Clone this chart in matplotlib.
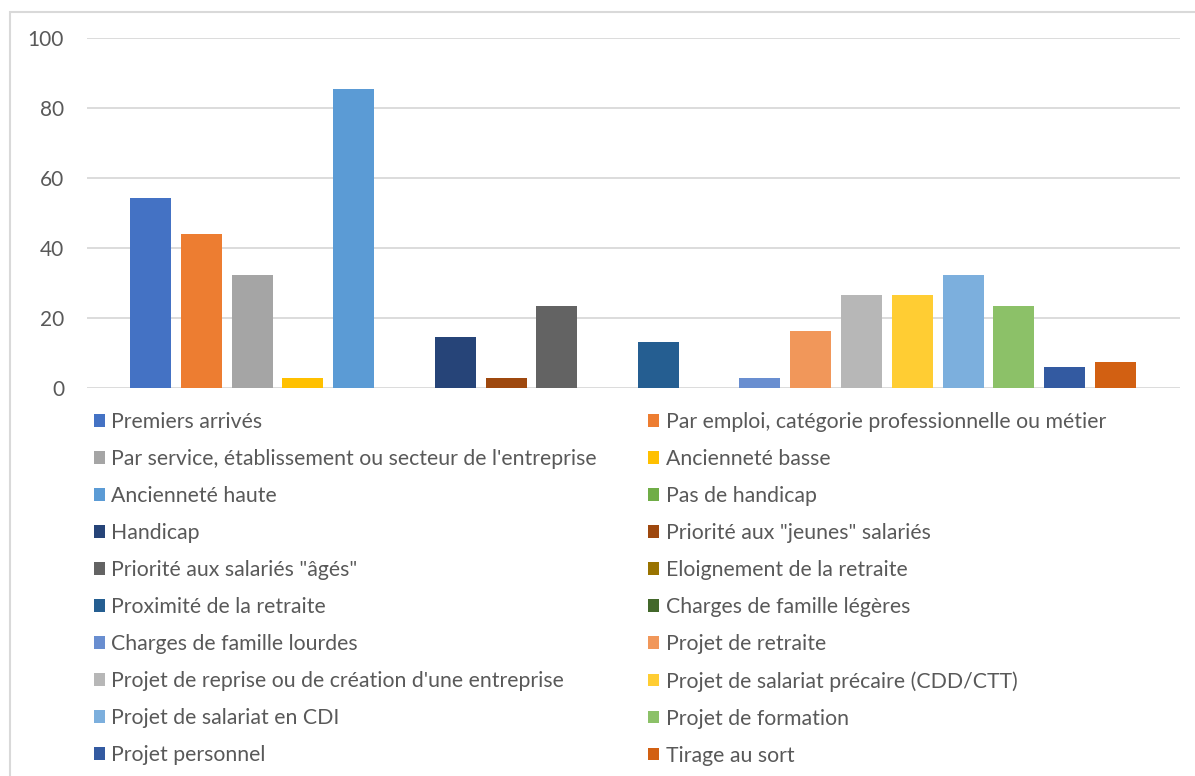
import numpy as np
import matplotlib.pyplot as plt
from matplotlib.patches import Rectangle, Patch

# ============================================================
# DATA
# ============================================================
labels = [
    "Premiers arrivés",
    "Par emploi, catégorie professionnelle ou métier",
    "Par service, établissement ou secteur de l'entreprise",
    "Ancienneté basse",
    "Ancienneté haute",
    "Pas de handicap",
    "Handicap",
    "Priorité aux \"jeunes\" salariés",
    "Priorité aux salariés \"âgés\"",
    "Eloignement de la retraite",
    "Proximité de la retraite",
    "Charges de famille légères",
    "Charges de famille lourdes",
    "Projet de retraite",
    "Projet de reprise ou de création d'une entreprise",
    "Projet de salariat précaire (CDD/CTT)",
    "Projet de salariat en CDI",
    "Projet de formation",
    "Projet personnel",
    "Tirage au sort",
]
values = [54.4, 44.1, 32.4, 2.9, 85.3, 0, 14.7, 2.9, 23.5, 0,
          13.2, 0, 2.9, 16.2, 26.5, 26.5, 32.4, 23.5, 5.9, 7.4]
colors = ["#4472C4", "#ED7D31", "#A5A5A5", "#FFC000", "#5B9BD5", "#70AD47",
          "#264478", "#9E480E", "#636363", "#997300", "#255E91", "#43682B",
          "#698ED0", "#F1975A", "#B7B7B7", "#FFCD33", "#7CAFDD", "#8CC168",
          "#335AA1", "#D26012"]
yticks = [0, 20, 40, 60, 80, 100]

# ============================================================
# PLOT
# ============================================================
plt.rcParams['font.family'] = ['Lato', 'DejaVu Sans']
W, H = 1195, 776
fig = plt.figure(figsize=(W / 100, H / 100), dpi=100)

# light chart-area border (left + top visible)
fig.patches.append(Rectangle((9.5 / W, -0.1), 1.2, 1 - 12.5 / H + 0.1,
                             transform=fig.transFigure, fill=False,
                             edgecolor='#D9D9D9', linewidth=1.5))

ax = fig.add_axes([87 / W, 1 - 388 / H, (1180 - 87) / W, 350 / H])
x = np.arange(len(values))
bars = ax.bar(x, values, width=0.807, color=colors, zorder=3)

ax.set_ylim(0, 100)
ax.set_xlim(-1.25, 20.27)
ax.set_yticks(yticks)
ax.set_xticks([])
ax.grid(axis='y', color='#D9D9D9', linewidth=1.3, zorder=0)
for s in ax.spines.values():
    s.set_visible(False)
ax.tick_params(axis='y', length=0, pad=16.5, labelsize=15, labelcolor='#595959')

# legend, row-major order in 2 columns
handles = [Patch(facecolor=c) for c in colors]
order = list(range(0, 20, 2)) + list(range(1, 20, 2))
leg = fig.legend([handles[i] for i in order], [labels[i] for i in order],
                 ncol=2, loc='upper left', bbox_to_anchor=(94 / W, 1 - 412 / H),
                 frameon=False, fontsize=15.3, labelcolor='#595959',
                 handlelength=0.52, handleheight=0.52, handletextpad=0.3,
                 labelspacing=0.8, columnspacing=2.41, borderaxespad=0,
                 borderpad=0)

plt.savefig('out.png', dpi=100)
